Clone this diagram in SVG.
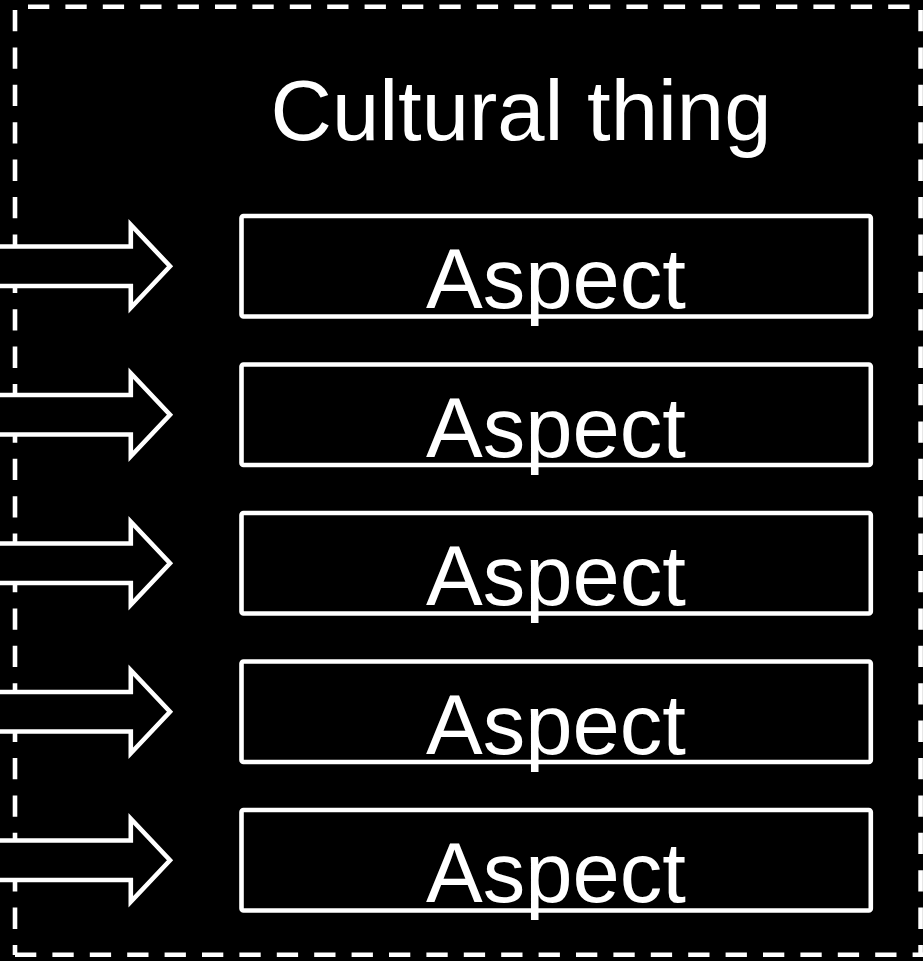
<svg xmlns="http://www.w3.org/2000/svg" width="923" height="961" viewBox="0 0 923 961">
  <style>
    .border { stroke: #ffffff; stroke-width: 4.6; fill: none; stroke-dasharray: 21.3 16.1; }
    .box { fill: #000000; stroke: #ffffff; stroke-width: 4.6; }
    .arrow { fill: #000000; stroke: #ffffff; stroke-width: 4.6; stroke-linejoin: miter; stroke-miterlimit: 10; }
    .title { font-family: "Liberation Sans", Arial, sans-serif; font-size: 85px; fill: #ffffff; text-anchor: middle; }
    .label { font-family: "Liberation Sans", Arial, sans-serif; font-size: 85px; fill: #ffffff; text-anchor: middle; }
  </style>
  <defs>
    <path id="arrowShape" class="arrow" d="M-10,-19.75 H130.8 V-41.5 L170,0 L130.8,41.5 V19.75 H-10 Z"/>
  </defs>
  <rect x="0" y="0" width="923" height="961" fill="#000000"/>

  <g id="frame">
    <line class="border" x1="15" y1="6.7" x2="920.6" y2="6.7" stroke-dashoffset="24.4"/>
    <line class="border" x1="15" y1="10" x2="15" y2="955"/>
    <line class="border" x1="920.6" y1="10" x2="920.6" y2="955"/>
    <line class="border" x1="15" y1="954.7" x2="923" y2="954.7"/>
  </g>

  <g id="title">
    <text class="title" x="521" y="140">Cultural thing</text>
  </g>

  <g id="connectors">
    <use href="#arrowShape" transform="translate(0,266.25)"/>
    <use href="#arrowShape" transform="translate(0,414.75)"/>
    <use href="#arrowShape" transform="translate(0,563.25)"/>
    <use href="#arrowShape" transform="translate(0,711.75)"/>
    <use href="#arrowShape" transform="translate(0,860.25)"/>
  </g>

  <g id="aspect1">
    <rect class="box" x="241.5" y="216" width="629.3" height="100.5" rx="2"/>
    <text class="label" x="556" y="308">Aspect</text>
  </g>
  <g id="aspect2">
    <rect class="box" x="241.5" y="364.5" width="629.3" height="100.5" rx="2"/>
    <text class="label" x="556" y="456.5">Aspect</text>
  </g>
  <g id="aspect3">
    <rect class="box" x="241.5" y="513" width="629.3" height="100.5" rx="2"/>
    <text class="label" x="556" y="605">Aspect</text>
  </g>
  <g id="aspect4">
    <rect class="box" x="241.5" y="661.5" width="629.3" height="100.5" rx="2"/>
    <text class="label" x="556" y="753.5">Aspect</text>
  </g>
  <g id="aspect5">
    <rect class="box" x="241.5" y="810" width="629.3" height="100.5" rx="2"/>
    <text class="label" x="556" y="902">Aspect</text>
  </g>
</svg>
